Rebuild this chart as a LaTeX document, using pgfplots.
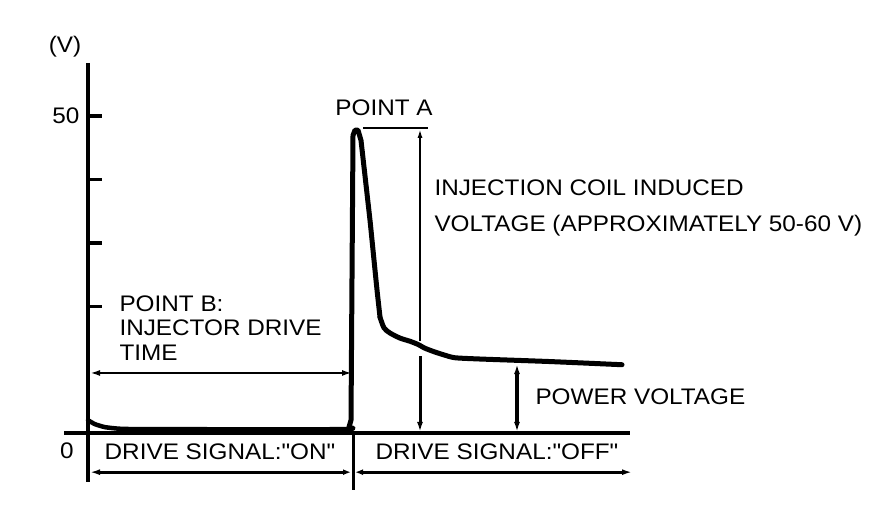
\documentclass[border=0pt]{standalone}
\usepackage{fontspec}
\usepackage{pgfplots}
\pgfplotsset{compat=1.18}
\usetikzlibrary{arrows.meta}
\newfontfamily\labelfont[FakeStretch=1.08]{Liberation Sans}
\newcommand\dq{\symbol{34}}
\begin{document}
\begin{tikzpicture}[font=\labelfont\fontsize{22.5}{24.5}\selectfont]
\useasboundingbox (0,0) rectangle (896pt,508pt);
\begin{axis}[
  at={(64pt,26pt)}, anchor=south west,
  scale only axis, width=566pt, height=419pt,
  xmin=-2.4, xmax=54.2, ymin=-7.7, ymax=58.4,
  axis lines=none, clip=false,
]
% signal
\addplot[black, line width=4.5pt, line join=round, line cap=round, smooth, tension=0.3] coordinates {
(0,2.05) (0.7,1.42) (1.7,0.95) (3.2,0.7) (6.2,0.63) (25.7,0.63) (26.1,0.95)};
\addplot[black, line width=5pt, line join=round, line cap=round] coordinates {
(26.1,0.95) (26.3,2.05) (26.5,47.0) (26.7,47.8) (27.0,47.8) (27.3,46.2) (28.2,33.6) (28.9,22.6) (29.2,18.3)};
\addplot[black, line width=5pt, line join=round, line cap=round, smooth, tension=0.4] coordinates {
(29.2,18.3) (29.6,16.6) (30.2,15.8) (31.2,15.0) (32.2,14.5) (33.0,14.0) (33.7,13.4) (34.7,12.8) (35.7,12.3) (36.7,11.9) (39.2,11.7) (46.2,11.3) (53.4,10.8)};
% axes
\draw[line width=3.5pt] (axis cs:0,58.4) -- (axis cs:0,-7.7);
\draw[line width=3.5pt] (axis cs:-2.4,0) -- (axis cs:54.2,0);
\draw[line width=3pt] (axis cs:26.5,0) -- (axis cs:26.5,-9);
\draw[line width=3.5pt] (axis cs:0,20) -- (axis cs:1.4,20);
\draw[line width=3.5pt] (axis cs:0,30) -- (axis cs:1.4,30);
\draw[line width=3.5pt] (axis cs:0,40) -- (axis cs:1.4,40);
\draw[line width=3.5pt] (axis cs:0,50) -- (axis cs:1.4,50);
\node[anchor=east] at (axis cs:-0.5,50) {50};
\node at (axis cs:-2.1,-2.7) {0};
\node at (axis cs:-2.3,60.9) {(V)};
% point A
\draw[line width=2pt] (axis cs:27.5,48.1) -- (axis cs:34,48.1);
\draw[line width=2pt, -{Latex[length=9pt,width=5pt]}] (axis cs:33.2,14.6) -- (axis cs:33.2,48.0);
\draw[line width=3pt, -{Latex[length=10pt,width=6pt]}] (axis cs:33.2,12.1) -- (axis cs:33.2,0.2);
\node at (axis cs:29.6,51.3) {POINT A};
\node[anchor=west, align=left] at (axis cs:34.3,35.5) {INJECTION COIL INDUCED\\[11pt]VOLTAGE (APPROXIMATELY 50-60 V)};
% power voltage
\draw[line width=3.5pt, {Latex[length=10pt,width=6pt]}-{Latex[length=10pt,width=6pt]}] (axis cs:42.9,0.2) -- (axis cs:42.9,10.9);
\node[anchor=west] at (axis cs:44.4,5.7) {POWER VOLTAGE};
% point B
\draw[line width=2.5pt, {Latex[length=10pt,width=6pt]}-{Latex[length=10pt,width=6pt]}] (axis cs:0.2,9.5) -- (axis cs:26.4,9.5);
\node[anchor=west, align=left] at (axis cs:2.8,16.6) {POINT B:\\INJECTOR DRIVE\\TIME};
% drive signal
\draw[line width=3pt, {Latex[length=10pt,width=6pt]}-{Latex[length=8pt,width=6pt]}] (axis cs:0.2,-6.15) -- (axis cs:26.3,-6.15);
\draw[line width=3pt, {Latex[length=8pt,width=6pt]}-{Latex[length=10pt,width=6pt]}] (axis cs:26.7,-6.15) -- (axis cs:54.4,-6.15);
\node at (axis cs:13.2,-3.0) {DRIVE SIGNAL:\dq ON\dq};
\node at (axis cs:40.9,-3.0) {DRIVE SIGNAL:\dq OFF\dq};
\end{axis}
\end{tikzpicture}
\end{document}
